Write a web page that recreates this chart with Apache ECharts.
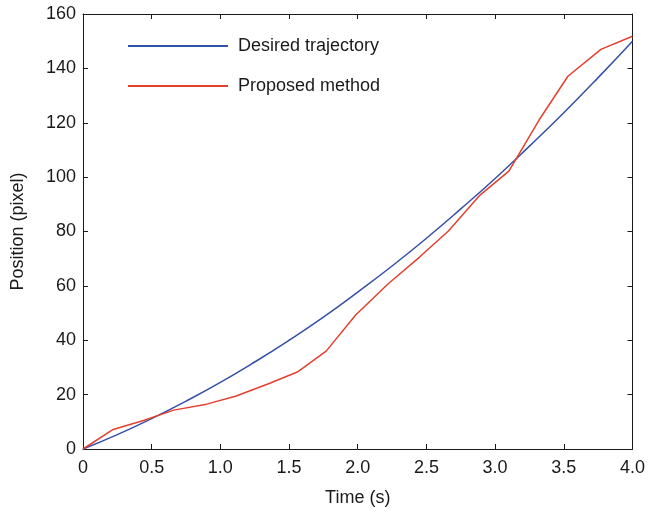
<!DOCTYPE html>
<html><head><meta charset="utf-8">
<script src="https://cdn.jsdelivr.net/npm/echarts@6/dist/echarts.min.js"></script>
<style>html,body{margin:0;padding:0;background:#fff}#c{width:648px;height:515px}</style>
</head><body><div id="c"></div>
<script>
const desiredT = [0,0.25,0.5,0.75,1.0,1.25,1.5,1.75,2.0,2.25,2.5,2.75,3.0,3.25,3.5,3.75,4.0];
const desiredY = [0,5.3,11.2,17.6,24.5,32,40,48.5,57.7,67.3,77.5,88.3,99.5,111.4,123.7,136.6,150];
const proposedT = [0,0.22,0.44,0.66,0.9,1.11,1.36,1.56,1.77,1.985,2.22,2.45,2.66,2.89,3.1,3.32,3.53,3.77,4.0];
const proposedY = [0,7.2,10.5,14.3,16.5,19.4,24.2,28.3,36,49.3,60.7,70.6,80.2,93.4,102.2,121,137.1,147,151.8];
const xTicks = {min:0,max:4,interval:0.5};
const yTicks = {min:0,max:160,interval:20};
const seriesNames = ['Desired trajectory','Proposed method'];

const font = 'Liberation Sans, Arial, sans-serif';
const zip = (a,b)=>a.map((v,i)=>[v,b[i]]);
const chart = echarts.init(document.getElementById('c'));
const axisCommon = {
  axisLine:{show:true,onZero:false,lineStyle:{color:'#1a1a1a',width:1}},
  axisTick:{show:true,inside:true,length:5,lineStyle:{color:'#1a1a1a'}},
  splitLine:{show:false}
};
chart.setOption({
  animation:false,
  backgroundColor:'#fff',
  grid:{left:83,right:11,top:14,bottom:66,containLabel:false},
  legend:{
    left:128, top:37, padding:0, orient:'vertical', itemWidth:100, itemHeight:2, itemGap:22,
    icon:'rect',
    textStyle:{fontFamily:font,fontSize:18,color:'#1a1a1a',padding:[0,0,0,5]},
    data:seriesNames
  },
  xAxis:[
    Object.assign({type:'value',position:'bottom',min:xTicks.min,max:xTicks.max,interval:xTicks.interval,
      name:'Time (s)',nameLocation:'middle',nameGap:40,
      nameTextStyle:{fontFamily:font,fontSize:18,color:'#1a1a1a'},
      axisLabel:{fontFamily:font,fontSize:18,color:'#1a1a1a',margin:10,
        formatter:v=>v===0?'0':v.toFixed(1)}},axisCommon),
    Object.assign({type:'value',position:'top',min:xTicks.min,max:xTicks.max,interval:xTicks.interval,
      axisLabel:{show:false}},axisCommon)
  ],
  yAxis:[
    Object.assign({type:'value',position:'left',min:yTicks.min,max:yTicks.max,interval:yTicks.interval,
      name:'Position (pixel)',nameLocation:'middle',nameGap:56,
      nameTextStyle:{fontFamily:font,fontSize:18,color:'#1a1a1a'},
      axisLabel:{fontFamily:font,fontSize:18,color:'#1a1a1a',margin:7}},axisCommon),
    Object.assign({type:'value',position:'right',min:yTicks.min,max:yTicks.max,interval:yTicks.interval,
      axisLabel:{show:false}},axisCommon)
  ],
  series:[
    {name:seriesNames[0],type:'line',data:zip(desiredT,desiredY),smooth:true,showSymbol:false,symbol:'none',
      lineStyle:{color:'#3350a8',width:1.5},itemStyle:{color:'#3350a8'}},
    {name:seriesNames[1],type:'line',data:zip(proposedT,proposedY),showSymbol:false,symbol:'none',
      lineStyle:{color:'#e3402e',width:1.5},itemStyle:{color:'#e3402e'}}
  ]
});
</script></body></html>
